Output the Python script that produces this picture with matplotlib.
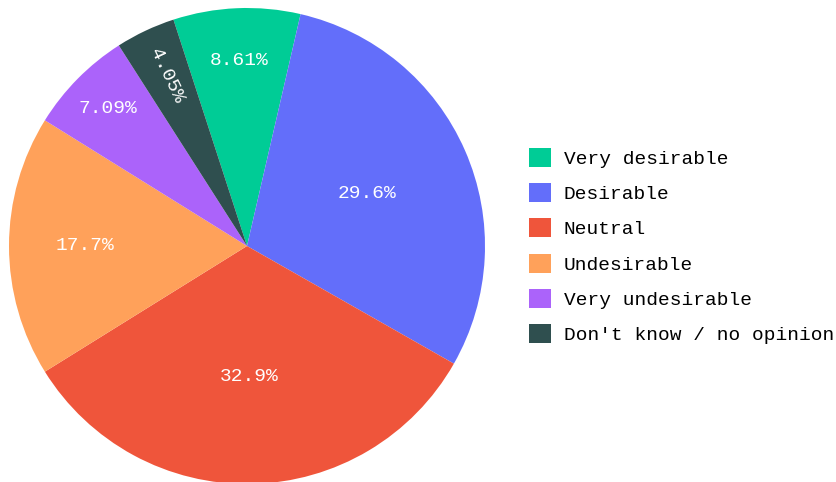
import matplotlib.pyplot as plt
from matplotlib.patches import Patch
import numpy as np

# Survey answers and their shares (percent)
categories = ['Very desirable', 'Desirable', 'Neutral', 'Undesirable',
              'Very undesirable', "Don't know / no opinion"]
shares = [8.61, 29.6, 32.9, 17.7, 7.09, 4.05]
colors = ['#00CC96', '#636EFA', '#EF553B', '#FFA15A', '#AB63FA', '#2F4F4F']

# where each percentage sits along its slice radius
label_radius = [0.78, 0.55, 0.55, 0.68, 0.82, 0.79]
start_angle = 108.0

mono = 'Liberation Mono'

fig = plt.figure(figsize=(8.37, 4.82), dpi=100)
ax = fig.add_axes([9 / 837, -2 / 482, 476 / 837, 476 / 482])

wedges, _ = ax.pie(shares, colors=colors, startangle=start_angle,
                   counterclock=False, radius=1.0,
                   wedgeprops=dict(linewidth=0))
ax.set_xlim(-1, 1)
ax.set_ylim(-1, 1)
ax.set_aspect('equal')
ax.axis('off')

# percentage labels at the middle angle of each slice
for w, v, r in zip(wedges, shares, label_radius):
    mid = np.deg2rad((w.theta1 + w.theta2) / 2)
    x, y = r * np.cos(mid), r * np.sin(mid)
    rot = 0
    if v < 5:
        # thin slice: run the text along the radius
        rot = np.rad2deg(mid) - 180
    ax.text(x, y, f'{v:.3g}%', ha='center', va='center', color='white',
            fontsize=14, family=mono, rotation=rot, rotation_mode='anchor')

handles = [Patch(facecolor=c, edgecolor='none') for c in colors]
fig.legend(handles, categories, loc='center left',
           bbox_to_anchor=(529 / 837, 1 - 246 / 482), frameon=False,
           prop={'family': mono, 'size': 14}, handlelength=1.13,
           handleheight=1.13, handletextpad=0.67, labelspacing=0.78,
           borderpad=0, borderaxespad=0)

fig.savefig('out.png', dpi=100)
